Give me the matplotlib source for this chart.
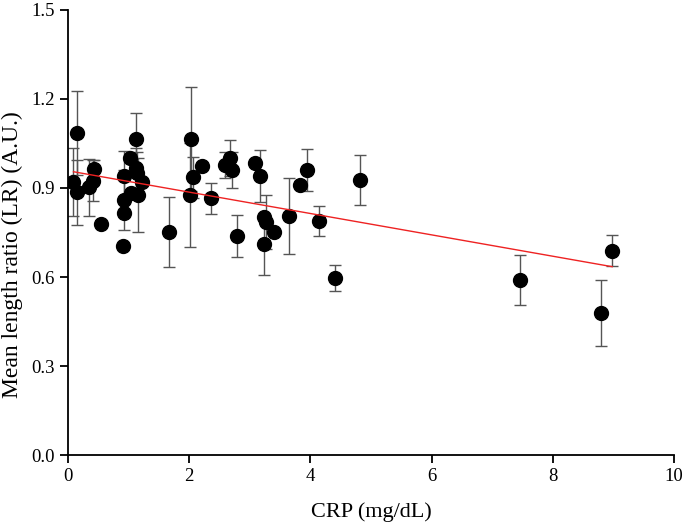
import numpy as np
import matplotlib
matplotlib.use('Agg')
import matplotlib.pyplot as plt

# data: CRP (mg/dL), mean length ratio, error
crp = [0.09, 0.14, 0.15, 0.34, 0.41, 0.43, 0.55, 0.90, 0.92, 0.92, 0.93,
       1.03, 1.04, 1.12, 1.115, 1.13, 1.16, 1.22, 1.67, 2.03, 2.07, 2.02,
       2.21, 2.36, 2.59, 2.68, 2.70, 2.79, 3.09, 3.16, 3.23, 3.27, 3.24,
       3.40, 3.64, 3.82, 3.95, 4.14, 4.40, 4.82, 7.46, 8.80, 8.98]
ratio = [0.921, 1.086, 0.885, 0.902, 0.925, 0.963, 0.777, 0.705, 0.940, 0.859, 0.817,
         1.002, 0.884, 1.065, 0.966, 0.952, 0.876, 0.920, 0.752, 1.065, 0.936, 0.876,
         0.974, 0.865, 0.977, 1.002, 0.961, 0.738, 0.983, 0.940, 0.801, 0.786, 0.711,
         0.752, 0.807, 0.910, 0.961, 0.789, 0.597, 0.926, 0.590, 0.480, 0.689]
err = [0.115, 0.142, 0.110, 0.095, 0.070, 0.030, 0.0, 0.0, 0.085, 0.100, 0.0,
       0.0, 0.0, 0.087, 0.070, 0.070, 0.124, 0.0, 0.118, 0.176, 0.070, 0.174,
       0.0, 0.053, 0.044, 0.060, 0.060, 0.071, 0.0, 0.087, 0.0, 0.090, 0.103,
       0.0, 0.128, 0.0, 0.070, 0.050, 0.045, 0.084, 0.084, 0.111, 0.053]

# regression line as drawn in the figure
fit_intercept = 0.958
fit_slope = -0.036

plt.rcParams['font.family'] = ['Liberation Serif', 'DejaVu Serif']

fig = plt.figure(figsize=(6.85, 5.25), dpi=100)
ax = fig.add_axes([0.0993, 0.1333, 0.8847, 0.8477])

ax.errorbar(crp, ratio, yerr=err, fmt='none', ecolor='#555555',
            elinewidth=1.0, capsize=4, capthick=1.0, zorder=2)
ax.plot(crp, ratio, 'o', color='black', markersize=10, zorder=3)

xs = np.array([min(crp), max(crp)])
ax.plot(xs, fit_intercept + fit_slope * xs, color='#ee2222', linewidth=1.0, zorder=4)

ax.set_xlim(0, 10)
ax.set_ylim(0, 1.5)
ax.set_xticks([0, 2, 4, 6, 8, 10])
ax.set_yticks([0.0, 0.3, 0.6, 0.9, 1.2, 1.5])
ax.set_yticklabels(['0.0', '0.3', '0.6', '0.9', '1.2', '1.5'])
ax.spines['top'].set_visible(False)
ax.spines['right'].set_visible(False)
for s in ['left', 'bottom']:
    ax.spines[s].set_linewidth(1.3)
ax.tick_params(direction='out', length=6, width=1.3, labelsize=13.5)
ax.set_xlabel('CRP (mg/dL)', fontsize=16, labelpad=12)
ax.set_ylabel('Mean length ratio (LR) (A.U.)', fontsize=17)
ax.yaxis.set_label_coords(-0.075, 0.45)

fig.savefig('out.png', dpi=100)
